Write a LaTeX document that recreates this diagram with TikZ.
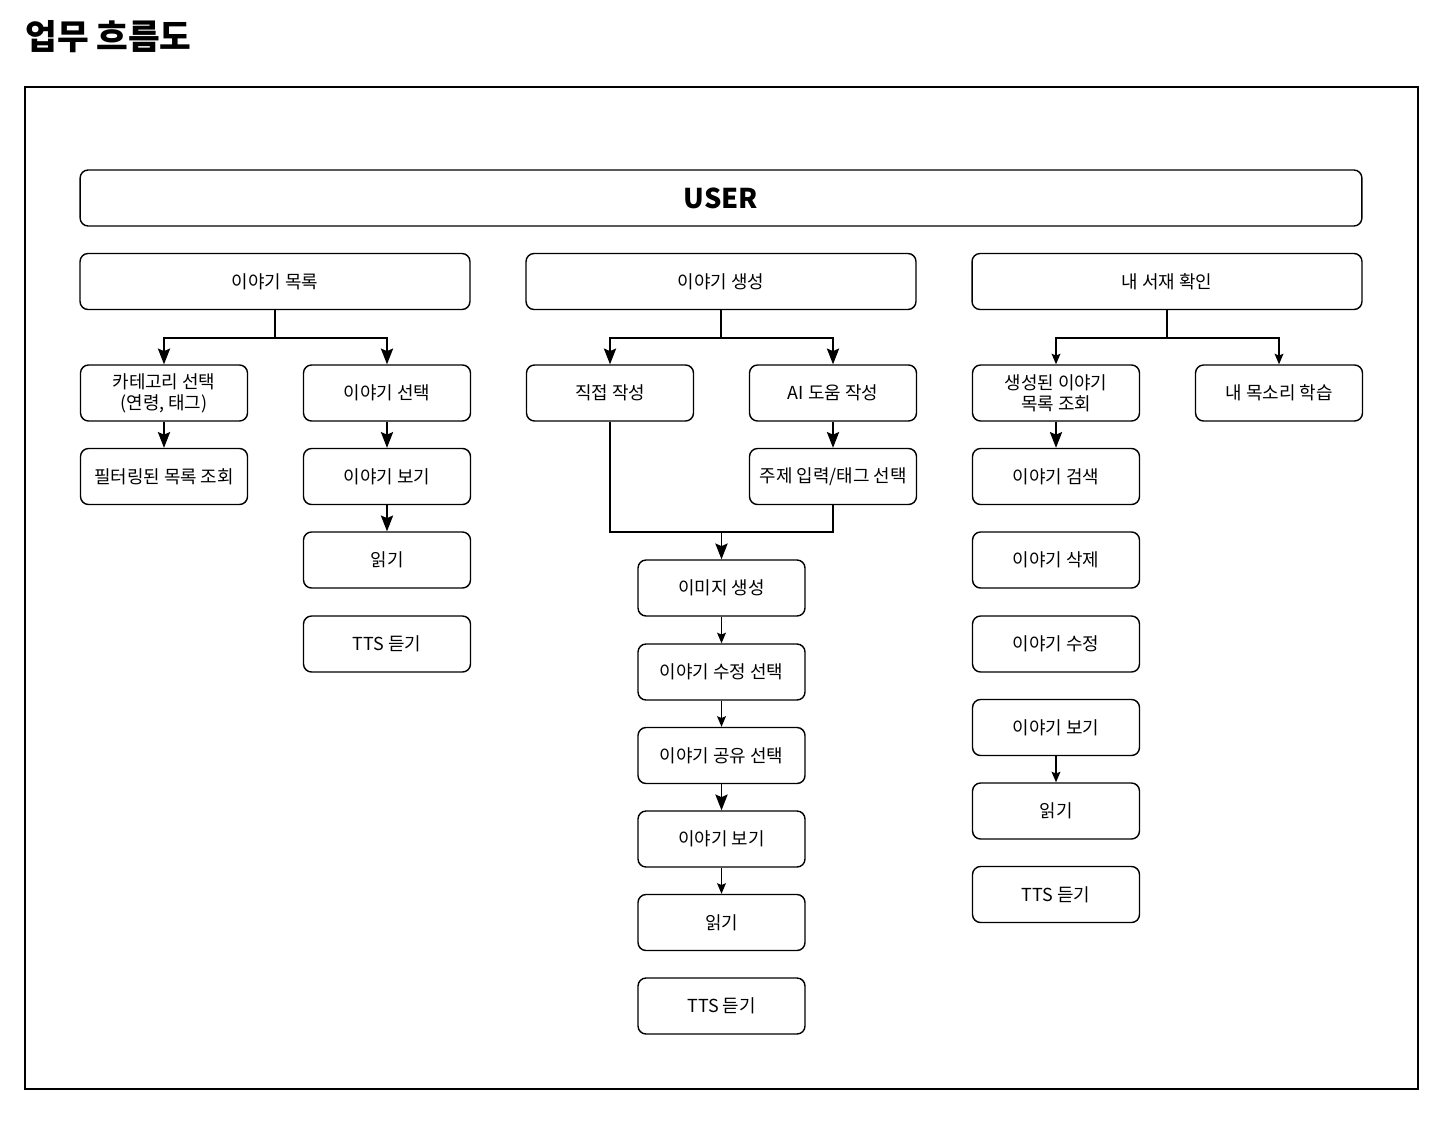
\documentclass[tikz,border=0pt]{standalone}
\usepackage{fontspec}
\setmainfont{Noto Sans CJK KR}
\usetikzlibrary{arrows.meta,positioning}
\begin{document}
\begin{tikzpicture}[x=0.02cm,y=-0.02cm,
  box/.style={draw, line width=0.8pt, rounded corners=0.16cm, align=center,
    font=\fontsize{10.2}{12}\selectfont, inner sep=0pt,
    minimum width=3.34cm, minimum height=1.12cm},
  wide/.style={box, minimum width=7.8cm},
  line/.style={line width=0.8pt},
  arr/.style={line, -{Stealth[length=9pt,width=7pt,inset=1.5pt]}},
  arrs/.style={line, -{Stealth[length=6pt,width=5pt,inset=1pt]}}]
\useasboundingbox (0,0) rectangle (1456,1122);
\node[anchor=west, inner sep=0pt, font=\fontsize{19.6}{22}\selectfont\bfseries] (title) at (25,37) {업무 흐름도};
\draw[line width=0.9pt] (25,87) rectangle (1418,1089);

\node[box, minimum width=25.64cm, font=\fontsize{15.5}{17}\selectfont\bfseries] (user) at (721,198) {USER};

% first level
\node[wide] (list) at (275,281.5) {이야기 목록};
\node[wide] (create) at (721,281.5) {이야기 생성};
\node[wide] (shelf) at (1167,281.5) {내 서재 확인};

% story list branch
\node[box] (cat) at (164,393) {카테고리 선택\\(연령, 태그)};
\node[box] (filt) at (164,476.5) {필터링된 목록 조회};
\node[box] (sel) at (387,393) {이야기 선택};
\node[box] (view1) at (387,476.5) {이야기 보기};
\node[box] (read1) at (387,560) {읽기};
\node[box] (tts1) at (387,644) {TTS 듣기};

% story creation branch
\node[box] (direct) at (610,393) {직접 작성};
\node[box] (ai) at (833,393) {AI 도움 작성};
\node[box] (topic) at (833,476.5) {주제 입력/태그 선택};
\node[box] (img) at (721.5,588) {이미지 생성};
\node[box] (edit) at (721.5,672) {이야기 수정 선택};
\node[box] (share) at (721.5,755.5) {이야기 공유 선택};
\node[box] (view2) at (721.5,839) {이야기 보기};
\node[box] (read2) at (721.5,922.5) {읽기};
\node[box] (tts2) at (721.5,1006) {TTS 듣기};

% my shelf branch
\node[box] (mine) at (1056,393) {생성된 이야기\\목록 조회};
\node[box] (voice) at (1279,393) {내 목소리 학습};
\node[box] (search) at (1056,476.5) {이야기 검색};
\node[box] (del) at (1056,560) {이야기 삭제};
\node[box] (mod) at (1056,644) {이야기 수정};
\node[box] (view3) at (1056,727.5) {이야기 보기};
\node[box] (read3) at (1056,811) {읽기};
\node[box] (tts3) at (1056,894.5) {TTS 듣기};

% connectors
\draw[arr] (list.south) -- ++(0,28) -| (cat);
\draw[arr] (list.south) -- ++(0,28) -| (sel);
\draw[arr] (cat) -- (filt);
\draw[arr] (sel) -- (view1);
\draw[arr] (view1) -- (read1);

\draw[arr] (create.south) -- ++(0,28) -| (direct);
\draw[arr] (create.south) -- ++(0,28) -| (ai);
\draw[arr] (ai) -- (topic);
\coordinate (mj) at (721.5,532);
\draw[line] (direct.south) |- (mj) -| (topic.south);
\draw[arr] (mj) -- (img);
\draw[arrs] (img) -- (edit);
\draw[arrs] (edit) -- (share);
\draw[arr] (share) -- (view2);
\draw[arrs] (view2) -- (read2);

\draw[arrs] (shelf.south) -- ++(0,28) -| (mine);
\draw[arrs] (shelf.south) -- ++(0,28) -| (voice);
\draw[arr] (mine) -- (search);
\draw[arrs] (view3) -- (read3);
\end{tikzpicture}
\end{document}
